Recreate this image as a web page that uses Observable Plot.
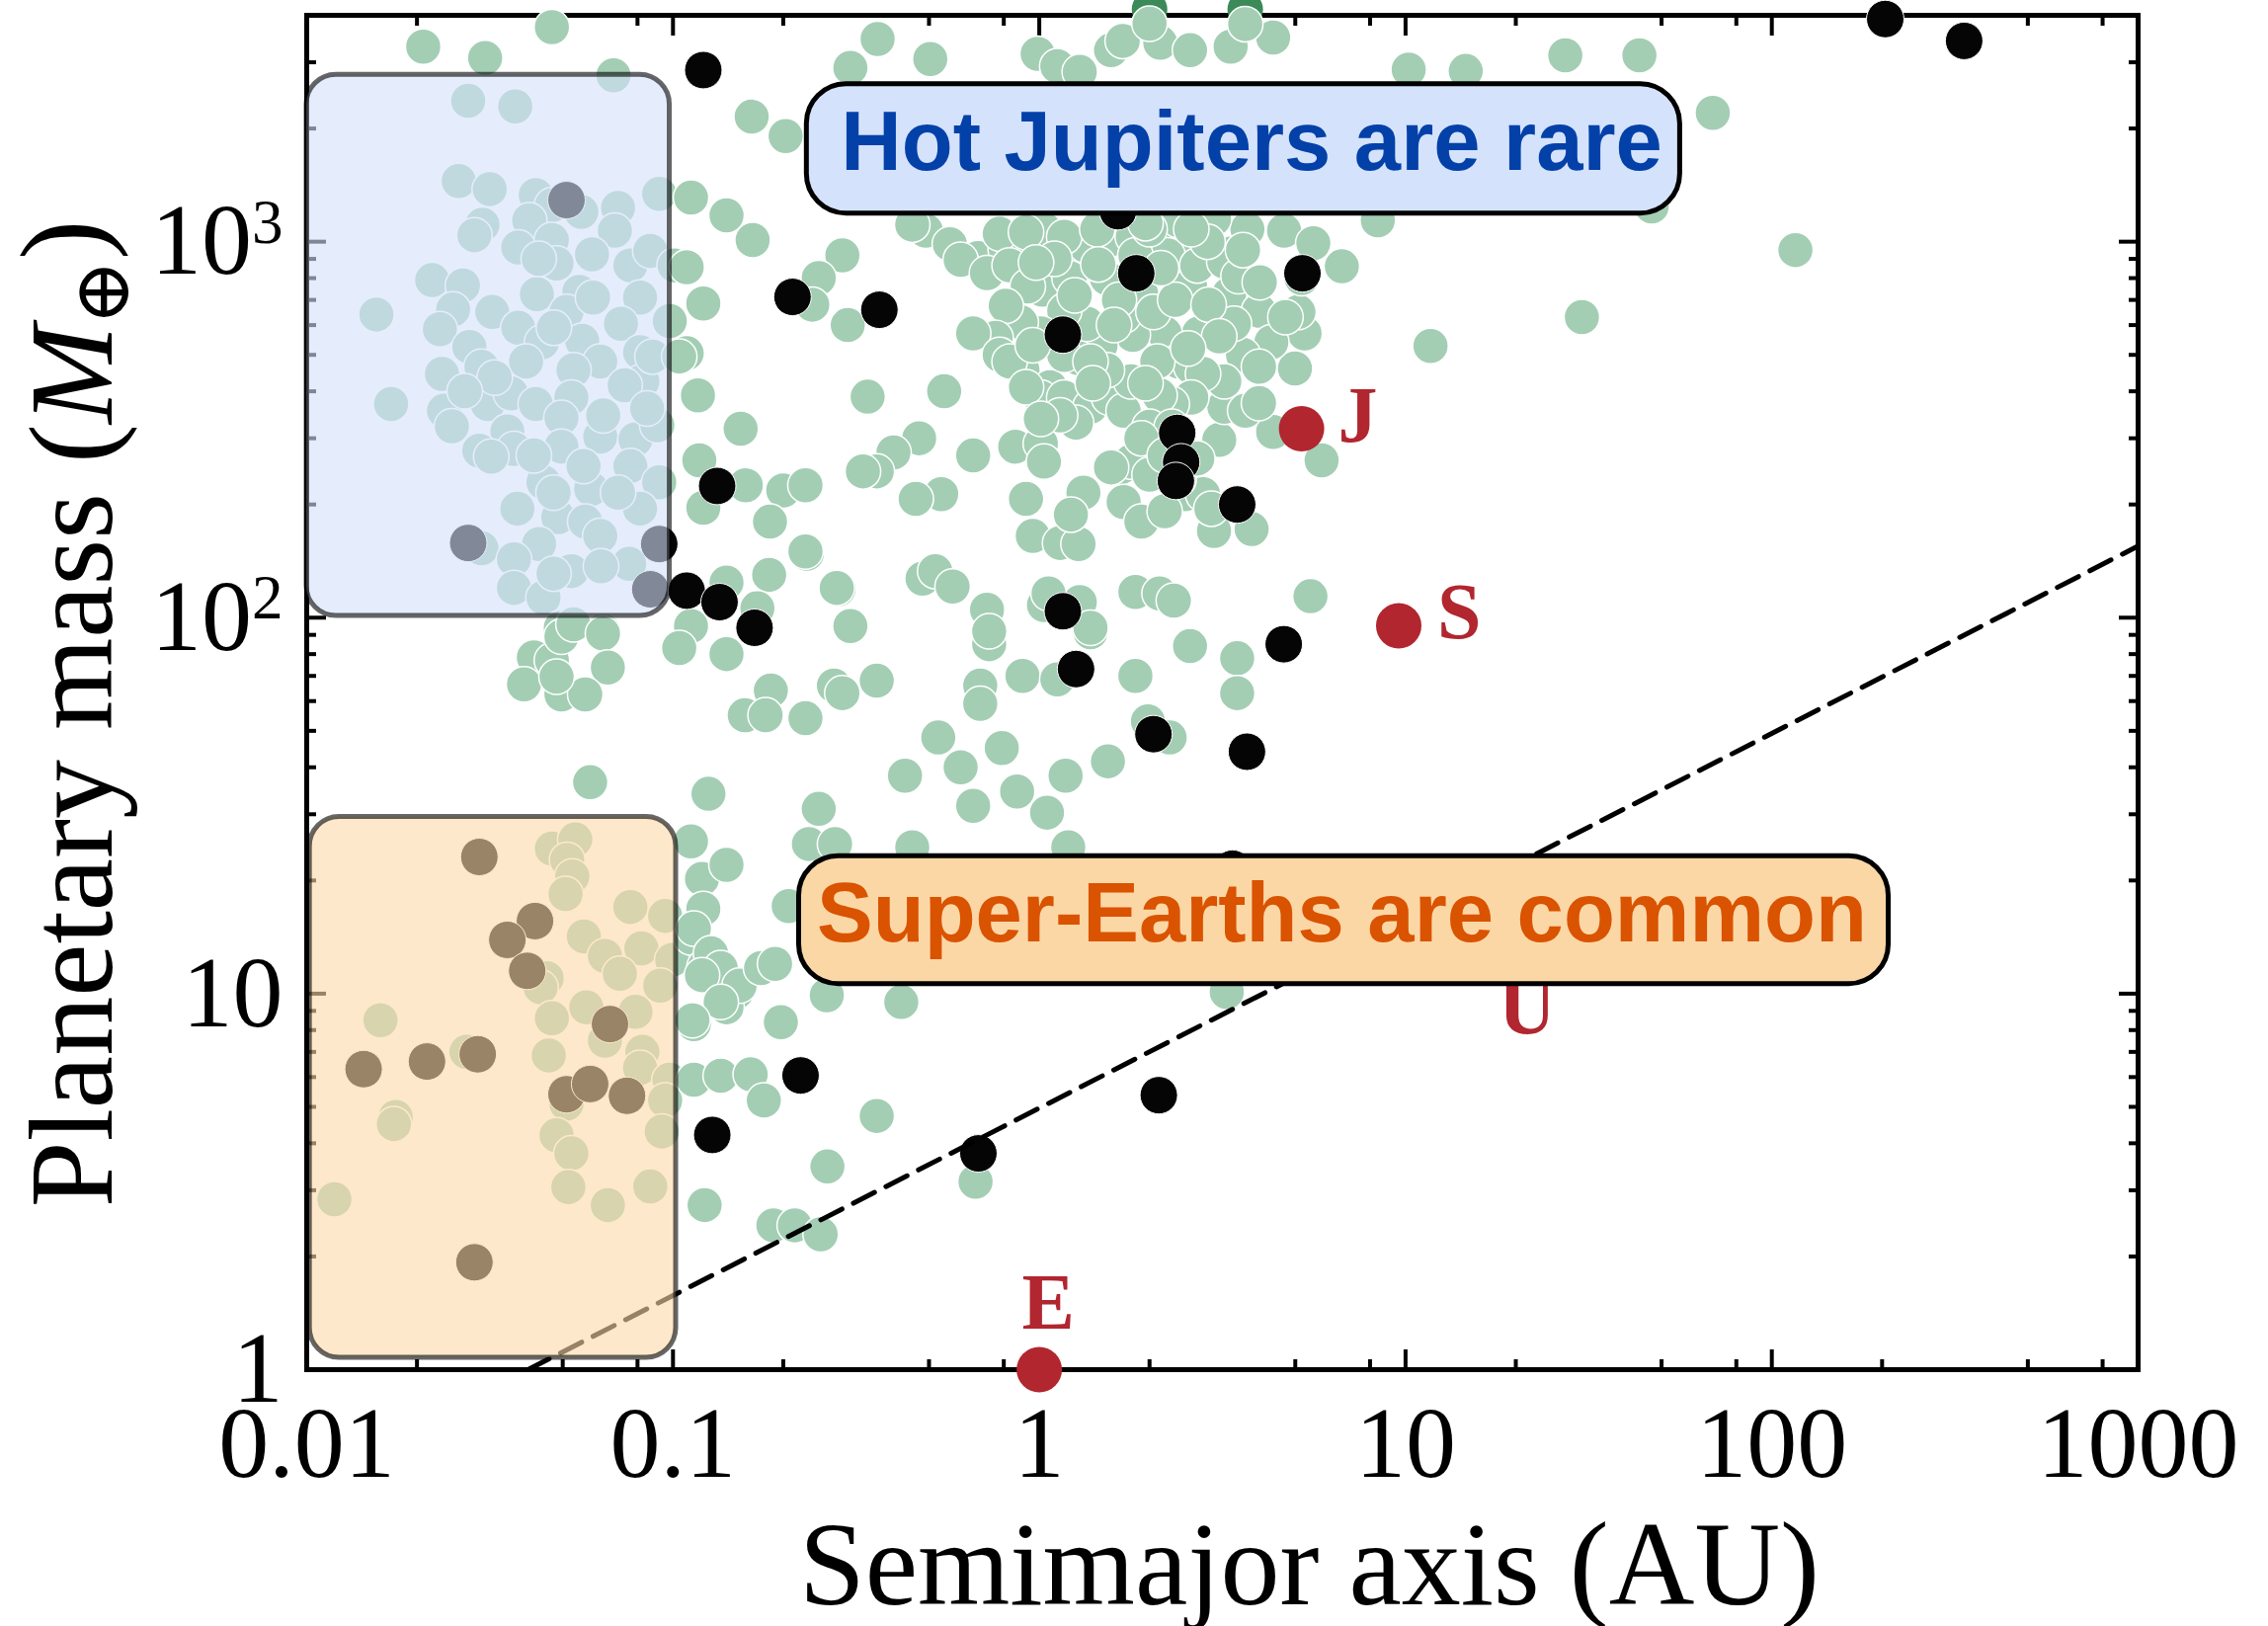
<!DOCTYPE html>
<html><head><meta charset="utf-8">
<script src="https://cdn.jsdelivr.net/npm/d3@7"></script>
<script src="https://cdn.jsdelivr.net/npm/@observablehq/plot@0.6"></script>
<style>
html,body{margin:0;padding:0;background:#fff;}
</style>
</head><body><div id="chart"></div>
<script>
// ---------- DATA (semimajor axis in AU, mass in Earth masses) ----------
const greenHotJupiterZone = [
[0.0208,3300],[0.0307,3080],[0.0467,3720],[0.0688,2770],[0.0276,2370],[0.0371,2290],
[0.026,1450],[0.0316,1380],[0.0422,1330],[0.0467,1250],[0.0562,1200],[0.0708,1230],[0.0917,1340],[0.112,1310],
[0.0302,1110],[0.0287,1040],[0.0405,1140],[0.0378,965],[0.0467,1010],[0.0694,1070],[0.0481,875],[0.0601,925],[0.0765,865],[0.0867,945],[0.101,865],
[0.022,790],[0.0267,765],[0.0251,660],[0.0321,650],[0.0155,640],[0.0425,725],[0.0555,735],[0.0813,710],[0.0721,605],[0.098,615],[0.0512,650],
[0.0231,585],[0.0378,590],[0.0278,525],[0.0439,540],[0.0565,545],[0.0813,508],[0.109,505],[0.03,465],[0.0397,480],[0.0633,480],[0.0535,455],[0.0234,445],[0.0825,425],[0.0738,415],[0.117,390],
[0.017,370],[0.0237,355],[0.0312,370],[0.0361,395],[0.0422,370],[0.0528,385],[0.0496,340],[0.0249,323],[0.0353,313],[0.0633,303],[0.079,298],[0.0906,325],
[0.0296,278],[0.0368,281],[0.0496,285],[0.0319,268],[0.0443,229],[0.0598,220],[0.0765,253],[0.0917,229],[0.0376,195],[0.0486,185],[0.0576,180],[0.0813,195],
[0.03,153],[0.0431,157],[0.0633,165],[0.0368,143],[0.0528,133],[0.0759,139],[0.0636,137],[0.0368,120],[0.0443,113],[0.0472,131],[0.118,262],[0.121,196],
[0.0605,710],[0.0473,590],[0.0645,345],[0.057,253],[0.0708,215],[0.0472,215],[0.0417,270],[0.0326,435],[0.027,400],[0.0879,495],[0.085,360],[0.043,900]
];
const greenCloseIn = [
[0.0494,94],[0.0644,92],[0.112,95],[0.0417,78.4],[0.0467,77],[0.0496,89],[0.0535,96],[0.0644,90.7],[0.0664,73.7],[0.0496,62.5],[0.0576,62.5],[0.0392,66.5],[0.0481,69.7],[0.104,83],[0.0594,36.5],
[0.0467,24.3],[0.0541,25.7],[0.0514,22.7],[0.0531,20.5],[0.0509,18.4],[0.0765,17.0],[0.0952,16.1],[0.0571,14.2],[0.0652,12.6],[0.082,13.2],[0.0716,11.3],[0.0452,11.0],[0.0435,10.4],[0.0995,12.3],[0.0923,10.5],[0.079,8.95],[0.058,9.2],[0.0467,8.6],[0.0652,7.5],[0.0825,7.0],[0.0813,6.35],[0.0458,6.85],[0.0159,8.5],[0.0273,7.0],[0.0175,4.7],[0.0173,4.5],[0.0512,5.1],[0.0978,5.9],[0.0952,5.2],[0.0932,4.3],[0.0481,4.2],[0.0528,3.76],[0.0518,3.06],[0.0664,2.74],[0.0867,3.07],[0.0119,2.84],
[0.112,25.4],[0.12,20.2],[0.112,14.1],[0.122,11.8],[0.114,8.3],[0.114,5.9],[0.122,2.74],[0.125,34],[0.121,16.8],[0.129,11.4],[0.149,10.1],[0.14,9.2],[0.135,6.05],[0.163,6.1],[0.177,5.2],[0.188,2.42]
];
const greenWarm = [
[0.232,148],[0.183,130],[0.14,124],[0.17,106],[0.14,80],[0.283,119],[0.185,64],[0.157,55],[0.179,55],[0.23,54],[0.275,66],[0.29,63],[0.36,68],[0.25,31],[0.235,25],[0.277,25],[0.14,22],[0.207,17.1],[0.114,14.9],[0.127,12.8],[0.135,11.7],[0.12,11.2],[0.152,10.5],[0.174,11.7],[0.19,12.0],[0.135,9.5],[0.113,8.5],[0.197,8.4],[0.263,9.9],[0.42,9.5],[0.45,24.5],[1.2,24.5],
[0.53,48],[0.43,38],[0.61,40],[0.66,31.6],[0.79,45],[0.87,34.5],[1.05,30.3],[1.18,38],[1.54,41.5],[2.27,48],[1.83,70],[0.9,70],[1.12,68.5],[0.69,66],[0.69,59],[0.73,85],[1.03,108],[1.38,91.5],[1.29,110],[2.58,84],[1.98,53],[3.47,78],[3.47,63],
[3.25,10.1],[0.36,4.73],[0.264,3.47],[0.67,3.16],[0.215,2.42],[0.253,2.29],
[0.164,2150],[0.203,1910],[0.14,1175],[0.165,1010],[0.109,855],[0.121,685],[0.104,495],[0.153,318],[0.158,225],[0.2,218],[0.184,180]
];
const greenGiants = [
[0.362,3460],[0.504,3060],[0.305,2900],[0.99,3160],[1.12,2930],[1.29,2830],[1.57,3230],[1.69,3420],[2.14,3380],[2.58,3230],[3.33,3300],[4.35,3490],[3.65,3790],[2.0,3800],
[0.49,1070],[0.57,985],[0.68,905],[0.81,955],[0.78,1050],[1.03,1080],[1.27,990],[1.57,1015],[1.8,1030],[2.21,985],[2.7,985],[3.33,930],[3.7,1080],[4.66,1070],[5.6,990],[6.7,860],[8.4,1140],[3.0,1150],[2.4,1140],[0.45,1110],[0.29,920],[0.25,800],[0.24,680],[0.3,600],[0.34,387],[0.55,400],[0.47,300],[0.4,275],[0.36,245],[0.33,245],[0.23,225],[0.54,213],[0.46,207],[0.66,270],[0.23,150],[0.28,120],[0.305,95],[0.48,127],[0.52,133],[0.58,121],[0.72,105],[0.73,92],[0.86,285],[1.01,290],[1.03,260],[0.92,207],[0.96,165],[1.14,158],[1.28,157],[1.32,215],[1.22,188],[1.06,116],[1.38,94],[1.83,117],[2.13,116],[2.33,111],[5.5,114],[1.67,251],[1.7,203],[1.9,180],[2.5,213],[2.8,213],[3.1,297],[3.2,364],[3.8,172],[3.0,170],[4.35,312],[5.9,262],[4.99,460],[5.3,570],[5.1,650],[5.2,800],
[0.61,895],[0.72,825],[0.83,865],[1.02,745],[0.93,760],[1.21,800],[1.34,975],[1.53,800],[1.9,725],[2.24,920],[2.58,760],[2.7,865],[3.3,725],[3.2,885],[3.5,810],[3.98,655],[4.3,540],[3.6,500],[3.98,465],[3.2,425],[3.4,605],[2.73,570],[2.2,570],[2.4,480],[2.6,465],[2.8,445],[2.6,385],[2.3,370],[2.1,480],[1.8,565],[1.7,635],[1.47,530],[1.28,490],[1.35,605],[1.17,655],[1.01,570],[0.89,610],[0.81,675],[0.76,555],[0.66,570],[0.78,500],[0.9,455],[0.83,480],[1.07,410],[1.01,385],[1.17,385],[1.38,364],[1.55,385],[1.7,355],[1.78,425],[1.53,455],[1.17,500],[0.96,530],[0.92,410],[1.26,330],[1.14,345],[1.01,338],[2.13,390],[2.0,322],[2.3,322],[1.78,260],[2.0,240],[2.4,233],[2.7,265],[2.95,195],[2.2,192],[1.57,251],[1.38,480],[4.7,630],[3.65,355],[3.98,372],[0.92,1060],[1.17,1030],[1.44,1080],[1.83,920],[2.0,1080],[2.88,1000],
[1.1,900],[1.45,870],[1.65,700],[2.05,650],[2.35,700],[2.9,680],[3.1,560],[2.55,520],[1.95,420],[1.6,600],[1.25,720],[0.98,880],[2.15,850],[2.6,1080],[1.95,1120],[3.6,950],[4.0,780],[1.4,420],[1.9,300],[2.2,270],
[14.6,2845],[10.2,2870],[27.3,3130],[43.5,3130],[69,2200],[47,1240],[11.7,528],[30.3,630],[116,950]
];
const greenEdge = [[2.0,4150],[3.65,4150]];
const blackPlanets = [
[0.121,2860],[0.0512,1290],[0.212,713],[0.366,659],[1.16,566],[1.84,824],[5.23,824],[1.64,1205],[2.38,310],[2.44,259],[2.36,231],[3.47,200],[0.132,224],[0.0276,158],[0.0917,157],[0.0867,119],[0.109,118],[0.134,110],[0.167,94],[1.16,104],[1.26,73],[4.65,85],[2.05,49],[3.69,44],[3.37,21.5],[0.223,6.06],[0.128,4.21],[0.682,3.76],[2.12,5.37],[204,3910],[335,3420],
[0.0296,23.1],[0.042,15.6],[0.0353,13.9],[0.04,11.5],[0.0673,8.3],[0.0143,6.3],[0.0213,6.6],[0.0293,6.9],[0.0512,5.4],[0.0594,5.75],[0.0749,5.35],[0.0287,1.93]
];
const solarNames = ["E","J","S","U","N"];
const solarA = [1, 5.2, 9.58, 19.2, 30.1];
const solarM = [1, 318, 95.2, 14.5, 17.1];
const dashA = [0.0402, 1000];
const dashM = [1, 155];
const xMajor = [0.01,0.1,1,10,100,1000];
const xMinor = [0.02,0.05,0.08,0.2,0.5,0.8,2,5,8,20,50,80,200,500,800];
const xTickLabels = ["0.01","0.1","1","10","100","1000"];
const yMajor = [1,10,100,1000];
const yMinor = [2,3,4,5,6,7,8,9,20,30,40,50,60,70,80,90,200,300,400,500,600,700,800,900,2000,3000];
const yTickLabels = ["1","10","10²","10³"];

// ---------- ANNOTATIONS ----------
const regionBoxes = [
  {x1:0.01, x2:0.098, y1:101, y2:2780, fill:"#d4e1fb"},
  {x1:0.0102, x2:0.102, y1:1.075, y2:29.5, fill:"#fcd8a8"}
];
const labelBoxes = [
  {x1:0.232, x2:56.2, y1:1188, y2:2623, fill:"#d4e2fb", text:"Hot Jupiters are rare", tx:3.8, ty:1555, color:"#0341a9"},
  {x1:0.221, x2:208.5, y1:10.6, y2:23.2, fill:"#fcd7a6", text:"Super-Earths are common", tx:6.7, ty:13.8, color:"#d95300"}
];
const labelOffsets = {E:{dx:9,dy:-42,anchor:"middle"}, J:{dx:37,dy:13,anchor:"start"}, S:{dx:39,dy:13,anchor:"start"}, U:{dx:18,dy:102,anchor:"middle"}};

const green = [...greenHotJupiterZone, ...greenCloseIn, ...greenWarm, ...greenGiants];
const solar = solarNames.map((n,i)=>({name:n, a:solarA[i], m:solarM[i]}));
const dash = dashA.map((a,i)=>({a, m:dashM[i]}));
const RED = "#b1262f";
const serif = "Liberation Serif, Times New Roman, serif";
const sans = "Liberation Sans, Arial, sans-serif";

const tickBase = {stroke:"black", strokeWidth:4, fill:"none", label:null};
const svg = Plot.plot({
  width: 2296, height: 1646,
  marginLeft: 310, marginRight: 132, marginTop: 15, marginBottom: 260,
  x: {type:"log", domain:[0.01,1000], label:null},
  y: {type:"log", domain:[1,4000], label:null},
  style: {background:"white", fontFamily: serif, color:"black", overflow:"visible"},
  marks: [
    Plot.axisX({anchor:"bottom", ticks:xMajor, tickSize:20, dy:-20, ...tickBase}),
    Plot.axisX({anchor:"bottom", ticks:xMinor, tickSize:10, dy:-10, ...tickBase}),
    Plot.axisX({anchor:"top", ticks:xMajor, tickSize:20, dy:20, ...tickBase}),
    Plot.axisX({anchor:"top", ticks:xMinor, tickSize:10, dy:10, ...tickBase}),
    Plot.axisY({anchor:"left", ticks:yMajor, tickSize:20, dx:20, ...tickBase}),
    Plot.axisY({anchor:"left", ticks:yMinor, tickSize:10, dx:10, ...tickBase}),
    Plot.axisY({anchor:"right", ticks:yMajor, tickSize:20, dx:-20, ...tickBase}),
    Plot.axisY({anchor:"right", ticks:yMinor, tickSize:10, dx:-10, ...tickBase}),
    Plot.axisX({anchor:"bottom", ticks:xMajor, tickSize:0, tickPadding:36, stroke:"none", fill:"black", fontSize:102, fontFamily:serif, label:null,
      tickFormat: d => xTickLabels[xMajor.indexOf(d)]}),
    Plot.axisY({anchor:"left", ticks:yMajor, tickSize:0, tickPadding:24, stroke:"none", fill:"black", fontSize:102, fontFamily:serif, label:null,
      tickFormat: d => yTickLabels[yMajor.indexOf(d)]}),
    Plot.frame({stroke:"black", strokeWidth:5}),
    Plot.dot(greenEdge, {x:d=>d[0], y:d=>d[1], r:18, fill:"#3b8a58"}),
    Plot.dot(green, {x:d=>d[0], y:d=>d[1], r:18, fill:"#a3ceb4", stroke:"white", strokeWidth:1.5}),
    Plot.dot(blackPlanets, {x:d=>d[0], y:d=>d[1], r:19, fill:"#050505", stroke:"white", strokeWidth:1}),
    Plot.line(dash, {x:"a", y:"m", stroke:"black", strokeWidth:5, strokeDasharray:"24,13"}),
    Plot.dot(solar, {x:"a", y:"m", r:23, fill:RED}),
    ...["E","J","S","U"].map(n => Plot.text(solar.filter(d=>d.name===n), {x:"a", y:"m", text:"name",
      dx:labelOffsets[n].dx, dy:labelOffsets[n].dy, textAnchor:labelOffsets[n].anchor, lineAnchor:"bottom",
      fill:RED, fontSize:80, fontWeight:"bold", fontFamily:serif})),
    Plot.rect(regionBoxes, {x1:"x1", x2:"x2", y1:"y1", y2:"y2", fill:d=>d.fill, fillOpacity:0.6, stroke:"black", strokeOpacity:0.6, strokeWidth:5, rx:30}),
    Plot.rect(labelBoxes, {x1:"x1", x2:"x2", y1:"y1", y2:"y2", fill:d=>d.fill, stroke:"black", strokeWidth:5, rx:40}),
    Plot.text(labelBoxes, {x:"tx", y:"ty", text:"text", fill:d=>d.color, fontSize:85, fontWeight:"bold", fontFamily:sans, textAnchor:"middle", lineAnchor:"bottom"}),
    Plot.text(["Semimajor axis (AU)"], {frameAnchor:"bottom", dx:88, dy:237, lineAnchor:"bottom", textAnchor:"middle", fontSize:120, fontFamily:serif, fill:"black"}),
    Plot.text(["Planetary mass (M⊕)"], {frameAnchor:"left", rotate:-90, dx:-198, dy:21.5, lineAnchor:"bottom", textAnchor:"middle", fontSize:120, fontFamily:serif, fill:"black"})
  ]
});

// typographic touches: superscripts and the italic M with subscript ⊕
const NS = "http://www.w3.org/2000/svg";
function ts(parent, txt, attrs) { const t = document.createElementNS(NS, "tspan"); t.textContent = txt; for (const k in attrs) t.setAttribute(k, attrs[k]); parent.appendChild(t); return t; }
d3.select(svg).selectAll("text").each(function() {
  const t = this.textContent;
  if (t === "10²" || t === "10³") {
    this.textContent = "";
    ts(this, "10", {});
    ts(this, t === "10²" ? "2" : "3", {"font-size":"0.62em", dy:"-0.5em"});
  } else if (t === "Planetary mass (M⊕)") {
    this.textContent = "";
    ts(this, "Planetary mass (", {});
    ts(this, "M", {"font-style":"italic"});
    ts(this, "⊕", {"font-size":"0.66em", dy:"0.22em", "font-family":"DejaVu Serif, DejaVu Sans, serif"});
    ts(this, ")", {dy:"-0.22em"});
  }
});
document.getElementById("chart").appendChild(svg);
</script>
</body></html>
